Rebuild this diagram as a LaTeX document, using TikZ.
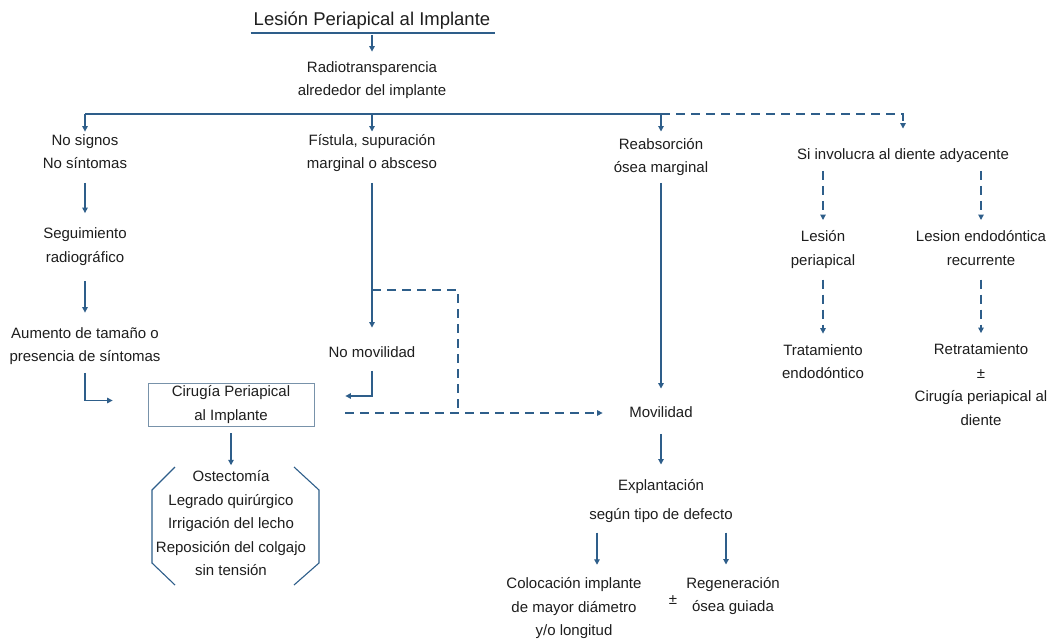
\documentclass[tikz,border=0pt]{standalone}
\usepackage{fontspec}
\setmainfont{Liberation Sans}
\usetikzlibrary{arrows.meta}
\definecolor{flow}{RGB}{46,94,138}
\definecolor{boxline}{RGB}{120,146,170}
\definecolor{ink}{RGB}{30,30,30}
\begin{document}
\begin{tikzpicture}[x=1pt,y=-1pt,
  txt/.style={inner sep=0pt, align=center, text=ink,
    font=\fontsize{15}{23.5}\selectfont,
    execute at begin node=\strut, execute at end node=\strut},
  link/.style={draw=flow, line width=1.2pt},
  arr/.style={link, -{Triangle[length=5.5pt,width=5.5pt]}},
  dlink/.style={link, dash pattern=on 9pt off 6pt},
  darr/.style={dlink, -{Triangle[length=5.5pt,width=5.5pt]}},
  bracket/.style={draw=flow, line width=1.1pt},
]
\useasboundingbox (0,0) rectangle (1062,642);
\fill[white] (0,0) rectangle (1062,642);

% title and first finding
\node[inner sep=0pt, anchor=base, text=ink, font=\fontsize{18.5}{22}\selectfont]
  (title) at (372,26) {Lesión Periapical al Implante};
\draw[link] ([xshift=-3pt,yshift=-7pt]title.base west) -- ([xshift=5pt,yshift=-7pt]title.base east);
\node[txt] (radio) at (372,82) {Radiotransparencia\\alrededor del implante};
\draw[arr] ([yshift=-9pt]title.base) -- ([yshift=9.5pt]radio.north);

% branches
\node[txt] (nosig) at (85,155)  {No signos\\No síntomas};
\node[txt] (fist)  at (372,155) {Fístula, supuración\\marginal o absceso};
\node[txt] (reab)  at (661,159) {Reabsorción\\ósea marginal};
\node[txt] (si)    at (903,155) {Si involucra al diente adyacente};

\coordinate (busL) at (85,114);
\coordinate (busR) at (661,114);
\coordinate (busD) at (903,114);
\draw[link] (busL) -- (busR);
\draw[arr] (busL) -- ([yshift=2.5pt]nosig.north);
\draw[arr] (fist.north |- busL) -- ([yshift=2.5pt]fist.north);
\draw[arr] (busR) -- ([yshift=6.5pt]reab.north);
\draw[darr] (busR) -- (busD) -- ([yshift=14.5pt]si.north);

% left column
\node[txt] (seg) at (85,248.5) {Seguimiento\\radiográfico};
\node[txt] (aum) at (85,348) {Aumento de tamaño o\\presencia de síntomas};
\draw[arr] ([yshift=-7pt]nosig.south) -- ([yshift=14.5pt]seg.north);
\draw[arr] ([yshift=-12pt]seg.south) -- ([yshift=14.5pt]aum.north);

\node[draw=boxline, line width=0.8pt, inner sep=0pt, minimum width=166pt,
  minimum height=43pt, align=center, text=ink, font=\fontsize{15}{23.5}\selectfont]
  (cir) at (231,404.5) {Cirugía Periapical\\al Implante};
\draw[arr] ([yshift=-4pt]aum.south) |- ([xshift=-35pt,yshift=4pt]cir.west);

% fistula column
\node[txt] (nomov) at (372,353) {No movilidad};
\draw[arr] ([yshift=-7pt]fist.south) -- ([yshift=13.5pt]nomov.north);
\draw[arr] ([yshift=-6pt]nomov.south) |- ([xshift=31pt,yshift=8.5pt]cir.east);

% surgical steps
\node[txt] (proc) at (231,526.5)
  {Ostectomía\\Legrado quirúrgico\\Irrigación del lecho\\Reposición del colgajo\\sin tensión};
\draw[arr] ([yshift=-7pt]cir.south) -- ([yshift=5pt]proc.north);
\draw[bracket] ([shift={(-56,-59.5)}]proc.center) -- ([shift={(-79,-36.5)}]proc.center)
  -- ([shift={(-79,36.5)}]proc.center) -- ([shift={(-56,58.5)}]proc.center);
\draw[bracket] ([shift={(63,-59.5)}]proc.center) -- ([shift={(88,-36.5)}]proc.center)
  -- ([shift={(88,36.5)}]proc.center) -- ([shift={(63,58.5)}]proc.center);

% mobility column
\node[txt] (mov) at (661,413) {Movilidad};
\draw[arr] ([yshift=-3pt]reab.south) -- ([yshift=12.5pt]mov.north);
\coordinate (fork) at (372,290);
\coordinate (join) at (458,413);
\draw[dlink] (fork) -| (join);
\draw[darr] ([xshift=31pt,yshift=-8.5pt]cir.east) -- ([xshift=-26.5pt]mov.west);

\node[txt] (expl) at (661,502.75) {Explantación\\[5.5pt]según tipo de defecto};
\draw[arr] ([yshift=-9pt]mov.south) -- ([yshift=14.5pt]expl.north);

\node[txt] (colo) at (574,610) {Colocación implante\\de mayor diámetro\\y/o longitud};
\node[txt] (reg)  at (733,598) {Regeneración\\ósea guiada};
\node[txt] (pm)   at (673,600) {±};
\draw[arr] ([xshift=-64pt,yshift=-6pt]expl.south) -- ([xshift=23pt,yshift=12.5pt]colo.north);
\draw[arr] ([xshift=65pt,yshift=-6pt]expl.south) -- ([xshift=-7pt,yshift=12.5pt]reg.north);

% adjacent tooth
\node[txt] (les1) at (823,251.5) {Lesión\\periapical};
\node[txt] (les2) at (981,251.5) {Lesion endodóntica\\recurrente};
\node[txt] (trat) at (823,365) {Tratamiento\\endodóntico};
\node[txt] (retr) at (981,388) {Retratamiento\\±\\Cirugía periapical al\\diente};
\draw[darr] ([xshift=-80pt,yshift=-4pt]si.south) -- ([yshift=10.5pt]les1.north);
\draw[darr] ([xshift=78pt,yshift=-4pt]si.south) -- ([yshift=10.5pt]les2.north);
\draw[darr] ([yshift=-7pt]les1.south) -- ([yshift=10.5pt]trat.north);
\draw[darr] ([yshift=-7pt]les2.south) -- ([yshift=10.5pt]retr.north);
\end{tikzpicture}
\end{document}
